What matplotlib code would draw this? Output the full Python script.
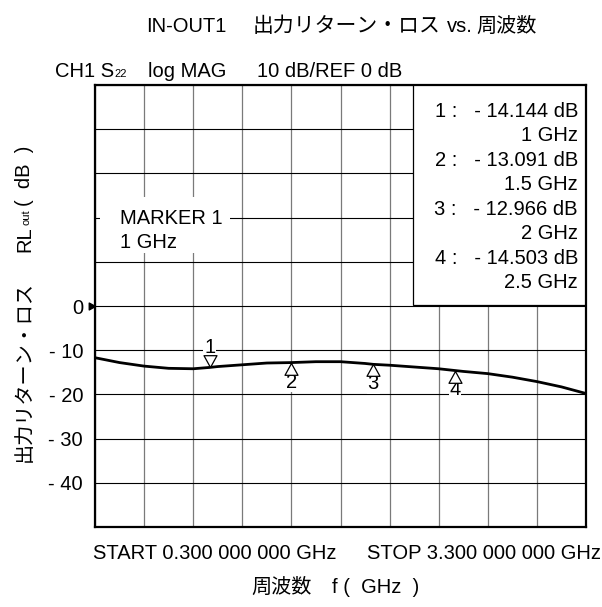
import matplotlib
matplotlib.use("Agg")
import matplotlib.pyplot as plt
import numpy as np
from matplotlib.patches import Rectangle
from matplotlib.path import Path
from matplotlib.transforms import IdentityTransform

plt.rcParams['font.family'] = ['Liberation Sans', 'Noto Sans CJK JP']

# ---------------- data ----------------
freq_ghz = [0.3, 0.45, 0.6, 0.75, 0.9, 1.0, 1.05, 1.2, 1.35, 1.5, 1.65, 1.8,
            1.95, 2.0, 2.1, 2.25, 2.4, 2.5, 2.55, 2.7, 2.85, 3.0, 3.15, 3.3]
rl_out_db = [-11.7, -12.8, -13.6, -14.1, -14.2, -13.9, -13.7, -13.3, -12.9, -12.8, -12.6, -12.6,
             -13.0, -13.2, -13.4, -13.8, -14.2, -14.6, -14.8, -15.3, -16.1, -17.1, -18.3, -19.8]

marker_ids = ['1', '2', '3', '4']
marker_freq = [1.0, 1.5, 2.0, 2.5]
marker_db = [-14.144, -13.091, -12.966, -14.503]
marker_freq_text = ['1 GHz', '1.5 GHz', '2 GHz', '2.5 GHz']

x_ticks = [0.3, 0.6, 0.9, 1.2, 1.5, 1.8, 2.1, 2.4, 2.7, 3.0, 3.3]
y_ticks = [50, 40, 30, 20, 10, 0, -10, -20, -30, -40, -50]
y_tick_labels = ['', '', '', '', '', '0', '- 10', '- 20', '- 30', '- 40', '']

W, H = 602, 607
FS = 14.5

fig = plt.figure(figsize=(W / 100, H / 100), dpi=100)
ax = fig.add_axes([95 / W, 1 - 527 / H, 491 / W, 442 / H])
ax.set_xlim(0.3, 3.3)
ax.set_ylim(-50, 50)
ax.set_xticks(x_ticks)
ax.set_yticks(y_ticks)
ax.set_yticklabels(y_tick_labels, fontsize=FS)
ax.set_xticklabels([])
ax.tick_params(axis='both', length=0)
ax.tick_params(axis='y', pad=8.6)
ax.set_axisbelow(True)
ax.xaxis.grid(True, color='#7a7a7a', linewidth=0.9)
ax.yaxis.grid(True, color='black', linewidth=0.8)
for sp in ax.spines.values():
    sp.set_linewidth(1.6)

# reference arrow at 0 dB
arrow = Path([(0, 0), (-1, 0.55), (-1, -0.55), (0, 0)], closed=True)
ax.plot([x_ticks[0]], [0], marker=arrow, markersize=9, color='black',
        clip_on=False, zorder=5)

# trace
ax.plot(freq_ghz, rl_out_db, color='black', linewidth=2.0, zorder=3,
        solid_capstyle='butt')

# markers
tri_down = Path([(0, 0), (-0.55, 1), (0.55, 1), (0, 0)], closed=True)
tri_up = Path([(0, 0), (-0.55, -1), (0.55, -1), (0, 0)], closed=True)
for i, (mid, mf) in enumerate(zip(marker_ids, marker_freq)):
    yv = rl_out_db[freq_ghz.index(mf)]
    if i == 0:
        mk, off = tri_down, 14.5
    else:
        mk, off = tri_up, -14
    ax.annotate(mid, (mf, yv), xytext=(0, off), textcoords='offset points',
                ha='center', va='center', fontsize=FS, zorder=5,
                bbox=dict(facecolor='white', edgecolor='none', pad=0.6))
    ax.plot([mf], [yv], marker=mk, markersize=17, markerfacecolor='white',
            markeredgecolor='black', markeredgewidth=0.9, linestyle='none', zorder=6)

# readout box (top right)
ax.add_patch(Rectangle((0.648, 0.502), 0.36, 0.5, transform=ax.transAxes,
                       facecolor='white', edgecolor='black', linewidth=0.9, zorder=2))

# MARKER 1 box
ax.add_patch(Rectangle(((100 - 95) / 491, (527 - 253) / 442), 130 / 491, 56 / 442,
                       transform=ax.transAxes, facecolor='white', edgecolor='none', zorder=2))

ID = IdentityTransform()


def px(x, y_top):
    return x, H - y_top


def put(x, y_top, s, size=FS, **kw):
    X, Y = px(x, y_top)
    return fig.text(X, Y, s, transform=ID, fontsize=size, va='baseline', **kw)


# readout texts
lines = []
for mid, mv, ft in zip(marker_ids, marker_db, marker_freq_text):
    lines.append(f"{mid} :   - {abs(mv):.3f} dB")
    lines.append(ft)
for k, s in enumerate(lines):
    t = put(578, 116.7 + 24.5 * k, s, ha='right')
    t.set_zorder(6)

# MARKER 1 label
put(120, 224, 'MARKER ' + marker_ids[0], zorder=6)
put(120, 248.3, marker_freq_text[0], zorder=6)

# title
put(146, 32.3, 'IN-OUT1', size=14.5)
put(253, 32.3, '出力リターン・ロス', size=15)
put(447, 32.3, 'vs.', size=14.5)
put(476, 32.3, '周波数', size=14.5)

# header
renderer = fig.canvas.get_renderer()
t1 = put(55, 76.7, 'CH1 S')
w1 = t1.get_window_extent(renderer).width
put(55 + w1, 76.7, '22', size=8)
put(148, 76.7, 'log MAG')
put(257, 76.7, '10 dB/REF 0 dB')

# bottom texts
put(93, 559.3, 'START 0.300 000 000 GHz')
put(366.7, 559.3, 'STOP 3.300 000 000 GHz')
put(251.7, 593.3, '周波数')
put(331.7, 593.3, 'f (  GHz  )')

# y label (rotated)
def vput(x_base, y_disp, s, size=FS):
    return fig.text(x_base, y_disp, s, transform=ID, fontsize=size, rotation=90,
                    rotation_mode='anchor', ha='left', va='baseline')

vput(30, 145.3, '出力リターン・ロス')
tr = fig.text(0, 0, 'RL', fontsize=FS, transform=ID)
wr = tr.get_window_extent(renderer).width
tr.remove()
vput(30, 355.3, 'RL')
to = fig.text(0, 0, 'out', fontsize=8, transform=ID)
wo = to.get_window_extent(renderer).width
to.remove()
vput(30, 355.3 + wr + 1, 'out', size=8)
vput(30, 355.3 + wr + wo + 4, '(  dB  )')

fig.savefig('out.png', dpi=100)
